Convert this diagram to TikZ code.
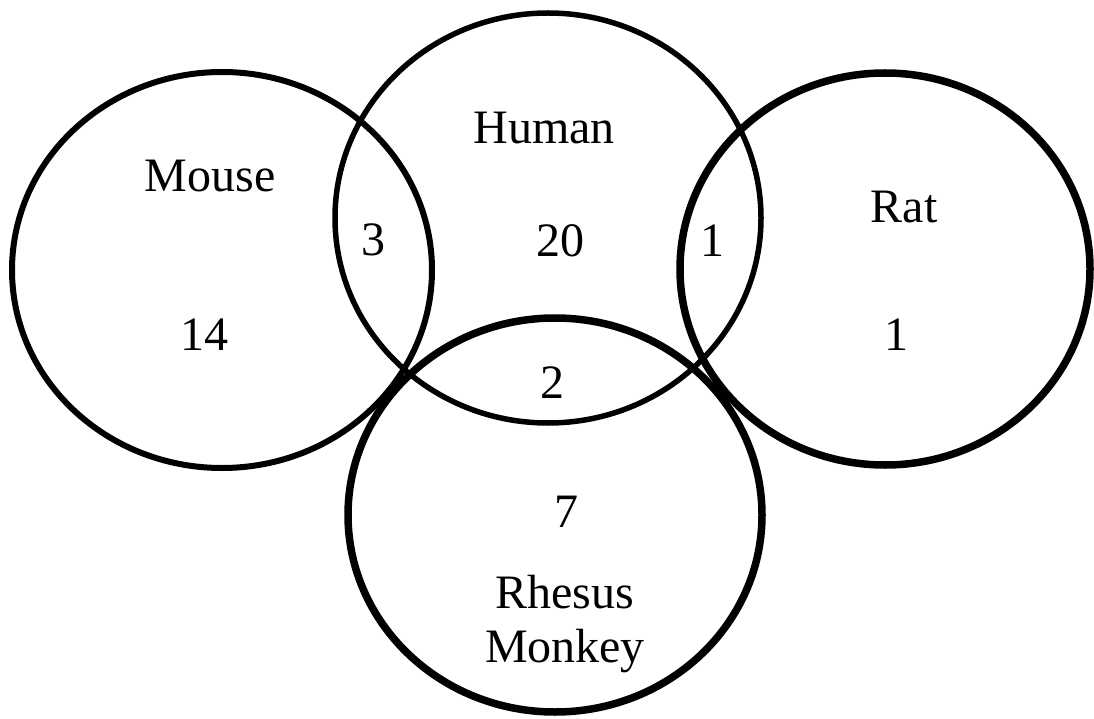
\documentclass[tikz,border=0pt]{standalone}
\usepackage{fontspec}
\setmainfont{Liberation Serif}
\begin{document}
\begin{tikzpicture}[x=1pt,y=-1pt,
  setcircle/.style={draw=black},
  lbl/.style={anchor=base,inner sep=0pt,font=\fontsize{48}{54}\selectfont}]
\useasboundingbox[fill=white] (0,0) rectangle (1094,719);
% circles
\draw[setcircle,line width=6pt] (222,270) ellipse [x radius=210, y radius=198];
\draw[setcircle,line width=5.5pt] (548,218) ellipse [x radius=213, y radius=205];
\draw[setcircle,line width=7.5pt] (885,269) ellipse [x radius=205, y radius=196];
\draw[setcircle,line width=7.5pt] (555,515) ellipse [x radius=207, y radius=197];
% labels
\node[lbl] (mouse) at (210,192) {Mouse};
\node[lbl] (n14) at (204,350) {14};
\node[lbl] (n3) at (373,255) {3};
\node[lbl] (human) at (544,144) {Human};
\node[lbl] (n20) at (560,256) {20};
\node[lbl] (n1a) at (712,256) {1};
\node[lbl] (n2) at (552,398) {2};
\node[lbl] (rat) at (904,223) {Rat};
\node[lbl] (n1b) at (896,350) {1};
\node[lbl] (n7) at (566,527) {7};
\node[lbl] (rhesus) at (565,608) {Rhesus};
\node[lbl] (monkey) at (565,662) {Monkey};
\end{tikzpicture}
\end{document}
